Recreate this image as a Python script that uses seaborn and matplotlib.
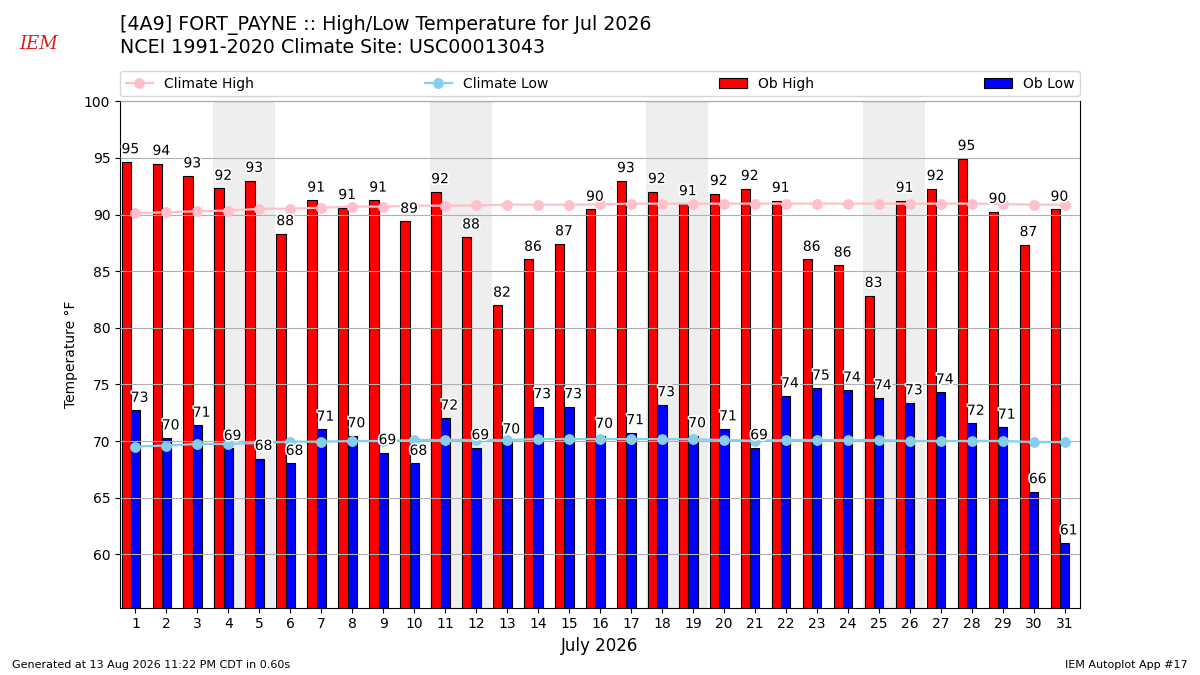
import numpy as np
import pandas as pd
import matplotlib
matplotlib.use("Agg")
import matplotlib.pyplot as plt
import matplotlib.patheffects as pe
import seaborn as sns

# ---- data ----
days = list(range(1, 32))
ob_high = [94.65, 94.5, 93.4, 92.3, 93.0, 88.3, 91.26, 90.6, 91.26, 89.4,
           92.0, 88.0, 81.98, 86.03, 87.4, 90.45, 92.98, 92.02, 90.94, 91.84,
           92.28, 91.23, 86.03, 85.52, 82.84, 91.23, 92.28, 94.94, 90.26, 87.33,
           90.45]
ob_low = [72.7, 70.26, 71.38, 69.34, 68.45, 68.02, 71.03, 70.45, 68.97, 68.02,
          72.01, 69.4, 69.91, 73.02, 73.02, 70.4, 70.72, 73.19, 70.45, 71.06,
          69.4, 73.97, 74.66, 74.48, 73.79, 73.36, 74.31, 71.55, 71.21, 65.52,
          60.99]
clim_high = [90.12, 90.2, 90.29, 90.35, 90.5, 90.52, 90.6, 90.7, 90.7, 90.78,
             90.78, 90.8, 90.87, 90.87, 90.87, 90.9, 90.96, 90.96, 90.96, 90.96,
             90.96, 90.96, 90.96, 90.96, 90.96, 90.96, 90.96, 90.96, 90.93, 90.87,
             90.87]
clim_low = [69.51, 69.6, 69.74, 69.74, 69.83, 69.94, 69.94, 70.0, 70.0, 70.09,
            70.09, 70.09, 70.09, 70.17, 70.17, 70.17, 70.17, 70.17, 70.15, 70.09,
            70.03, 70.09, 70.09, 70.09, 70.09, 70.0, 70.0, 70.0, 70.0, 69.91,
            69.91]
weekends = [(4, 5), (11, 12), (18, 19), (25, 26)]

df = pd.DataFrame({"day": days, "ob_high": ob_high, "ob_low": ob_low,
                   "clim_high": clim_high, "clim_low": clim_low})

plt.rcParams["font.family"] = ["DejaVu Sans"]
fig = plt.figure(figsize=(12, 6.75), dpi=100)
ax = fig.add_axes([0.1, 0.1, 0.8, 0.75])

for a, b in weekends:
    ax.axvspan(a - 0.5, b + 0.5, color="#eeeeee", zorder=0, lw=0)

x = np.array(days, dtype=float)
ax.bar(x - 0.3, df["ob_high"], width=0.3, color="red", edgecolor="black",
       linewidth=0.8, zorder=2, label="Ob High")
ax.bar(x, df["ob_low"], width=0.3, color="blue", edgecolor="black",
       linewidth=0.8, zorder=2, label="Ob Low")

sns.lineplot(data=df, x="day", y="clim_high", ax=ax, color="pink", marker="o",
             markersize=7, linewidth=1.6, markeredgecolor="pink", zorder=4,
             label="Climate High")
sns.lineplot(data=df, x="day", y="clim_low", ax=ax, color="skyblue", marker="o",
             markersize=7, linewidth=1.6, markeredgecolor="skyblue", zorder=4,
             label="Climate Low")

stroke = [pe.withStroke(linewidth=2.5, foreground="white")]
for d, h, l in zip(days, ob_high, ob_low):
    ax.text(d - 0.45, h + 0.5, "%.0f" % h, ha="left", va="bottom", fontsize=10,
            zorder=6, path_effects=stroke)
    ax.text(d - 0.15, l + 0.5, "%.0f" % l, ha="left", va="bottom", fontsize=10,
            zorder=6, path_effects=stroke)

ax.set_xlim(0.5, 31.5)
ax.set_ylim(55.3, 100)
ax.set_xticks(days)
ax.set_xticklabels([str(d) for d in days], fontsize=10)
ax.set_yticks(range(60, 101, 5))
ax.tick_params(axis="y", labelsize=10)
ax.yaxis.grid(True, color="#b0b0b0", linewidth=0.8, zorder=3)
ax.set_axisbelow(False)
ax.set_xlabel("July 2026", fontsize=12)
ax.set_ylabel("Temperature \u00b0F", fontsize=10)

handles, labels = ax.get_legend_handles_labels()
order = ["Climate High", "Climate Low", "Ob High", "Ob Low"]
hmap = dict(zip(labels, handles))
ax.legend([hmap[k] for k in order], order, loc=3, ncol=4, mode="expand",
          bbox_to_anchor=(0.0, 1.01, 1.0, 0.05), borderaxespad=0, fontsize=10)

fig.text(0.1, 0.947, "[4A9] FORT_PAYNE :: High/Low Temperature for Jul 2026\n"
         "NCEI 1991-2020 Climate Site: USC00013043", ha="left", va="center",
         fontsize=13.7, linespacing=1.22)
fig.text(0.032, 0.935, "IEM", color="#d42020", fontsize=13, style="italic",
         family="DejaVu Serif", ha="center", va="center")
fig.text(0.01, 0.015, "Generated at 13 Aug 2026 11:22 PM CDT in 0.60s",
         fontsize=8, ha="left", va="center")
fig.text(0.99, 0.015, "IEM Autoplot App #17", fontsize=8, ha="right",
         va="center")

fig.savefig("out.png", dpi=100)
